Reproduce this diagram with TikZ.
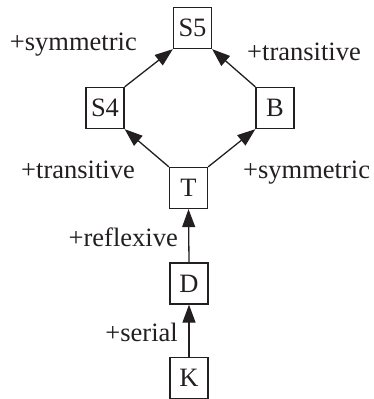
\documentclass[tikz,border=0pt]{standalone}
\usepackage{fontspec}
\setmainfont{Liberation Serif}
\usetikzlibrary{arrows.meta}
\definecolor{ink}{RGB}{35,31,32}
\begin{document}
\begin{tikzpicture}[x=1pt,y=-1pt,
  every node/.style={font=\fontsize{26.5}{30}\selectfont, text=ink},
  sys/.style={draw=ink, line width=1.3pt, rectangle, inner xsep=4pt, inner ysep=0pt, minimum height=41pt, minimum width=38pt},
  lab/.style={inner sep=0pt},
  arr/.style={draw=ink, line width=1.3pt, -{Triangle[length=18pt,width=13pt]}}]
\useasboundingbox (0,0) rectangle (373,399);
\node[sys] (S5) at (192.5,28) {S5};
\node[sys] (S4) at (105,108) {S4};
\node[sys] (B) at (275,108) {B};
\node[sys] (T) at (188.5,188) {T};
\node[sys] (D) at (189,283.5) {D};
\node[sys] (K) at (189,378) {K};
\draw[arr] (S4.north east) -- (S5.south west);
\draw[arr] (B.north west) -- (S5.south east);
\draw[arr] (T.north west) -- (S4.south east);
\draw[arr] (T.north east) -- (B.south west);
\draw[arr] (D.north) -- (T.south);
\draw[arr] (K.north) -- (D.south);
\node[lab, anchor=base east] (l1) at (137,50) {+symmetric};
\node[lab, anchor=base west] (l2) at (247,60) {+transitive};
\node[lab, anchor=base east] (l3) at (135,178) {+transitive};
\node[lab, anchor=base west] (l4) at (243,178) {+symmetric};
\node[lab, anchor=base east] (l5) at (178,246) {+reflexive};
\node[lab, anchor=base east] (l6) at (178,341) {+serial};
\end{tikzpicture}
\end{document}
